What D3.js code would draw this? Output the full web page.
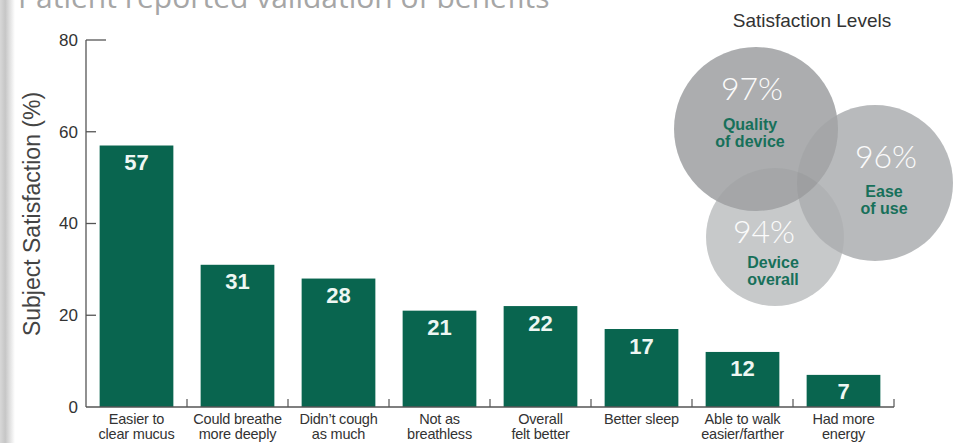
<!DOCTYPE html>
<html>
<head>
<meta charset="utf-8">
<script src="https://cdn.jsdelivr.net/npm/d3@7"></script>
<style>
  html, body { margin: 0; padding: 0; background: #fff; }
  svg { display: block; font-family: "Liberation Sans", Arial, Helvetica, sans-serif; }
</style>
</head>
<body>
<svg id="chart" width="955" height="443"></svg>
<script>
// Chart data
var categories = [
  ["Easier to", "clear mucus"],
  ["Could breathe", "more deeply"],
  ["Didn\u2019t cough", "as much"],
  ["Not as", "breathless"],
  ["Overall", "felt better"],
  ["Better sleep"],
  ["Able to walk", "easier/farther"],
  ["Had more", "energy"]
];
var values = [57, 31, 28, 21, 22, 17, 12, 7];
var yTicks = [0, 20, 40, 60, 80];

var levelNames = [["Quality", "of device"], ["Ease", "of use"], ["Device", "overall"]];
var levelValues = [97, 96, 94];

var svg = d3.select('#chart');
var green = '#09654f';

// Soft grey shadow strip down the left edge
var defs = svg.append('defs');
var grad = defs.append('linearGradient').attr('id', 'edge')
  .attr('x1', 0).attr('x2', 1).attr('y1', 0).attr('y2', 0);
grad.append('stop').attr('offset', '0%').attr('stop-color', '#d8d8d8');
grad.append('stop').attr('offset', '35%').attr('stop-color', '#c6c6c6');
grad.append('stop').attr('offset', '100%').attr('stop-color', '#ffffff');
svg.append('rect').attr('x', 0).attr('y', 0).attr('width', 15).attr('height', 443)
  .attr('fill', 'url(#edge)');

// Title, cut off at the top of the picture
svg.append('text')
  .attr('x', 18).attr('y', 7.5)
  .attr('font-family', '"Open Sans", sans-serif')
  .attr('font-size', 30)
  .attr('fill', '#a6a6a6')
  .text('Patient reported validation of benefits');

// Scales
var x = d3.scaleBand()
  .domain(d3.range(values.length))
  .range([86, 894])
  .paddingInner(0.27)
  .paddingOuter(0.135);
var y = d3.scaleLinear().domain([0, 80]).range([407, 40]);

// Bars
var bars = svg.append('g');
bars.selectAll('rect').data(values).join('rect')
  .attr('x', (d, i) => x(i))
  .attr('y', d => y(d))
  .attr('width', x.bandwidth())
  .attr('height', d => y(0) - y(d))
  .attr('fill', green);

bars.selectAll('text').data(values).join('text')
  .attr('x', (d, i) => x(i) + x.bandwidth() / 2)
  .attr('y', d => y(d) + 24.5)
  .attr('text-anchor', 'middle')
  .attr('font-size', 22)
  .attr('font-weight', 'bold')
  .attr('fill', '#eef7f3')
  .text(d => d);

// Y axis
var yAxis = svg.append('g');
yAxis.append('line')
  .attr('x1', 86).attr('x2', 86).attr('y1', y(80)).attr('y2', y(0))
  .attr('stroke', '#555').attr('stroke-width', 1.3);
yAxis.selectAll('line.tick').data(yTicks.filter(d => d > 0)).join('line')
  .attr('class', 'tick')
  .attr('x1', 86).attr('x2', d => d === 80 ? 106 : 96)
  .attr('y1', d => y(d)).attr('y2', d => y(d))
  .attr('stroke', '#555').attr('stroke-width', 1.3);
yAxis.selectAll('text').data(yTicks).join('text')
  .attr('x', 78).attr('y', d => y(d))
  .attr('dy', '0.35em')
  .attr('text-anchor', 'end')
  .attr('font-size', 17)
  .attr('fill', '#333')
  .text(d => d);

svg.append('text')
  .attr('transform', 'translate(40,214) rotate(-90)')
  .attr('text-anchor', 'middle')
  .attr('font-size', 23)
  .attr('fill', '#444')
  .text('Subject Satisfaction (%)');

// X axis: baseline plus small ticks on band edges
var xAxis = svg.append('g');
xAxis.append('line')
  .attr('x1', 86).attr('x2', 894).attr('y1', y(0)).attr('y2', y(0))
  .attr('stroke', '#555').attr('stroke-width', 1.3);
var step = x.step();
xAxis.selectAll('line.tick').data(d3.range(1, values.length + 1)).join('line')
  .attr('class', 'tick')
  .attr('x1', i => x(i - 1) - x.paddingOuter() * step + step)
  .attr('x2', i => x(i - 1) - x.paddingOuter() * step + step)
  .attr('y1', y(0)).attr('y2', y(0) - 8)
  .attr('stroke', '#555').attr('stroke-width', 1.2);

var catLabels = xAxis.selectAll('text').data(categories).join('text')
  .attr('text-anchor', 'middle')
  .attr('font-size', 14.5)
  .attr('letter-spacing', -0.2)
  .attr('fill', '#333');
catLabels.selectAll('tspan').data((d, i) => d.map(line => ({ line: line, i: i }))).join('tspan')
  .attr('x', d => x(d.i) + x.bandwidth() / 2)
  .attr('y', (d, j) => 424 + j * 15)
  .text(d => d.line);

// Satisfaction levels (overlapping circles)
svg.append('text')
  .attr('x', 812).attr('y', 27)
  .attr('text-anchor', 'middle')
  .attr('font-size', 19)
  .attr('fill', '#333')
  .text('Satisfaction Levels');

var circleLayout = [
  { cx: 756, cy: 129, r: 82, fill: '#b3b5b7', pctX: 752, pctY: 100, nameX: 750, nameY: 130 },
  { cx: 875, cy: 183, r: 78, fill: '#c0c2c4', pctX: 886, pctY: 168, nameX: 884, nameY: 197 },
  { cx: 775, cy: 237, r: 69, fill: '#d0d2d3', pctX: 764, pctY: 243, nameX: 773, nameY: 268 }
];
// paint order: bottom, right, then the dark one on top
var order = [2, 1, 0];

var venn = svg.append('g');
venn.selectAll('circle.base').data(order).join('circle')
  .attr('class', 'base')
  .attr('cx', i => circleLayout[i].cx)
  .attr('cy', i => circleLayout[i].cy)
  .attr('r', i => circleLayout[i].r)
  .attr('fill', i => circleLayout[i].fill);
// faint shade on every circle so the overlaps come out a little darker
venn.selectAll('circle.shade').data(order).join('circle')
  .attr('class', 'shade')
  .attr('cx', i => circleLayout[i].cx)
  .attr('cy', i => circleLayout[i].cy)
  .attr('r', i => circleLayout[i].r)
  .attr('fill', '#000')
  .attr('fill-opacity', 0.04);

venn.selectAll('text.pct').data(levelValues).join('text')
  .attr('class', 'pct')
  .attr('x', (d, i) => circleLayout[i].pctX)
  .attr('y', (d, i) => circleLayout[i].pctY)
  .attr('text-anchor', 'middle')
  .attr('font-family', 'Lato, "Open Sans", sans-serif')
  .attr('font-weight', 300)
  .attr('font-size', 32)
  .attr('fill', '#fbfbfb')
  .text(d => d + '%');

var names = venn.selectAll('text.name').data(levelNames).join('text')
  .attr('class', 'name')
  .attr('text-anchor', 'middle')
  .attr('font-size', 16)
  .attr('font-weight', 'bold')
  .attr('fill', '#17705a');
names.selectAll('tspan').data((d, i) => d.map(line => ({ line: line, i: i }))).join('tspan')
  .attr('x', d => circleLayout[d.i].nameX)
  .attr('y', (d, j) => circleLayout[d.i].nameY + j * 16.5)
  .text(d => d.line);
</script>
</body>
</html>
